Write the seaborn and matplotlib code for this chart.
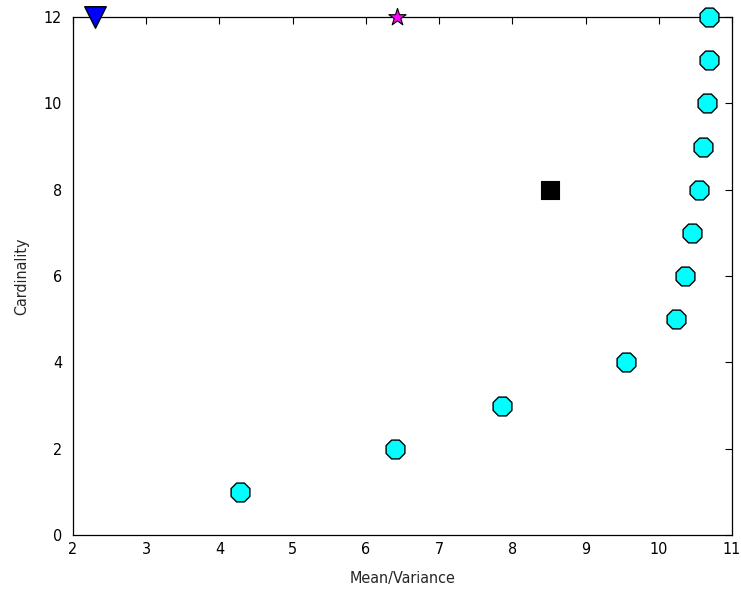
import matplotlib
matplotlib.use("Agg")
import matplotlib.pyplot as plt
import seaborn as sns
import pandas as pd

# Frontier of the cardinality-constrained portfolios
mean_var = [4.28, 6.40, 7.86, 9.55, 10.24, 10.36, 10.46, 10.55, 10.61, 10.66, 10.69, 10.69]
cardinality = [1, 2, 3, 4, 5, 6, 7, 8, 9, 10, 11, 12]

# Individual reference portfolios
square_x, square_y = [8.52], [8]
triangle_x, triangle_y = [2.30], [12]
star_x, star_y = [6.43], [12]

x_ticks = [2, 3, 4, 5, 6, 7, 8, 9, 10, 11]
y_ticks = [0, 2, 4, 6, 8, 10, 12]

sns.set_style("white")
plt.rcParams["font.family"] = ["DejaVu Sans"]
plt.rcParams["font.stretch"] = "condensed"

fig = plt.figure(figsize=(7.41, 5.93), dpi=100)
ax = fig.add_axes([73 / 741, 58 / 593, 659 / 741, 518 / 593])

df = pd.DataFrame({"Mean/Variance": mean_var, "Cardinality": cardinality})
sns.scatterplot(data=df, x="Mean/Variance", y="Cardinality", ax=ax,
                marker="8", s=215, color="#00ffff", edgecolor="black",
                linewidth=1.0, clip_on=False, zorder=3)
sns.scatterplot(x=square_x, y=square_y, ax=ax, marker="s", s=150,
                color="black", edgecolor="black", linewidth=0.8,
                clip_on=False, zorder=3)
sns.scatterplot(x=triangle_x, y=triangle_y, ax=ax, marker="v", s=240,
                color="#0000ff", edgecolor="black", linewidth=1.0,
                clip_on=False, zorder=3)
sns.scatterplot(x=star_x, y=star_y, ax=ax, marker="*", s=170,
                color="#ff00ff", edgecolor="black", linewidth=0.8,
                clip_on=False, zorder=3)

ax.set_xlim(2, 11)
ax.set_ylim(0, 12)
ax.set_xticks(x_ticks)
ax.set_yticks(y_ticks)
ax.set_xticklabels([str(t) for t in x_ticks])
ax.set_yticklabels([str(t) for t in y_ticks])
ax.tick_params(direction="in", length=5, width=0.8, top=True, right=True,
               labelsize=11.5, colors="black")
ax.tick_params(axis="x", pad=5)
ax.tick_params(axis="y", pad=8)
for side in ax.spines.values():
    side.set_visible(True)
    side.set_color("black")
    side.set_linewidth(0.9)

ax.set_xlabel("Mean/Variance", fontsize=11.5, labelpad=10)
ax.set_ylabel("Cardinality", fontsize=11.5, labelpad=10)

fig.savefig("out.png", dpi=100, facecolor="white")
